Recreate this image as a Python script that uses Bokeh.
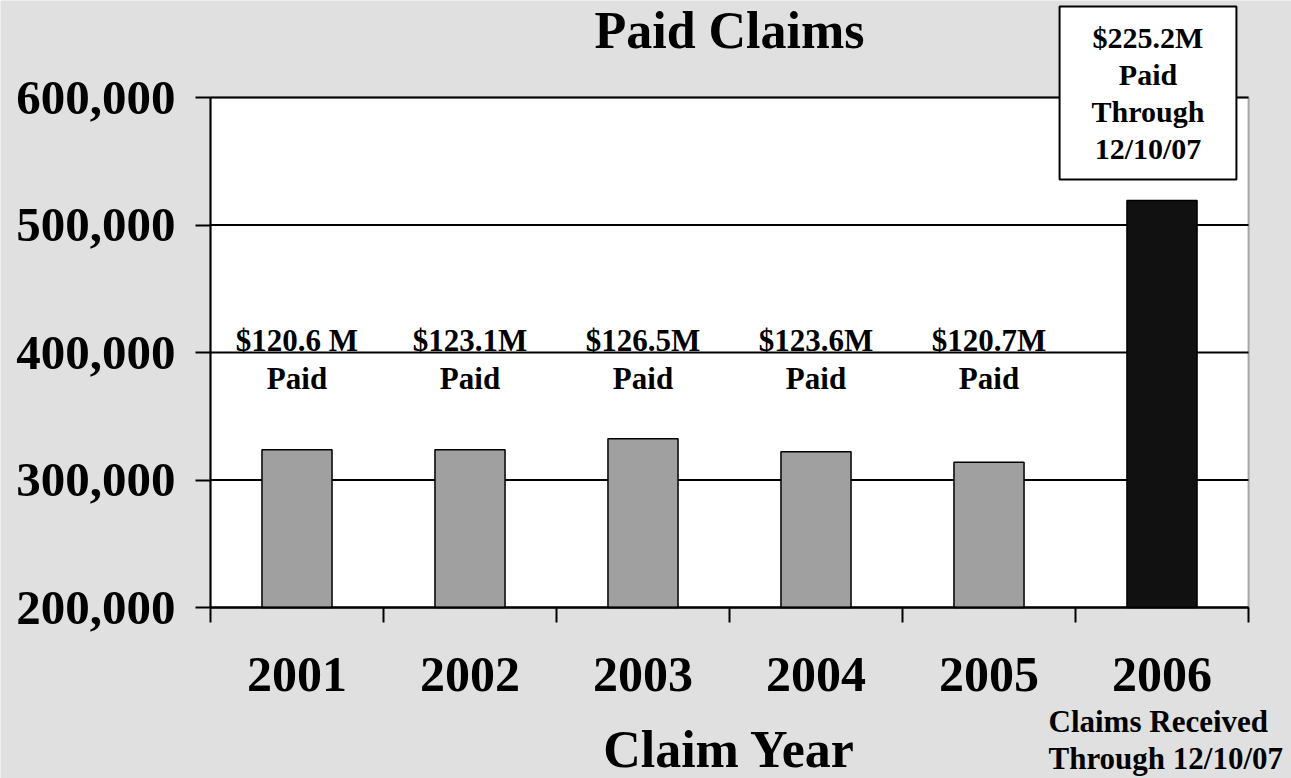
import re
from bokeh.plotting import figure
from bokeh.models import (FixedTicker, Label, Range1d, NumeralTickFormatter,
                          LinearAxis, BoxAnnotation)
from bokeh.embed import file_html
from bokeh.resources import INLINE
from bokeh.core.properties import value

# ---- data ----
years = ["2001", "2002", "2003", "2004", "2005", "2006"]
claims = [323700, 323700, 332300, 322100, 314000, 519200]
paid_amounts = ["$120.6 M", "$123.1M", "$126.5M", "$123.6M", "$120.7M"]
paid_word = ["Paid", "Paid", "Paid", "Paid", "Paid"]
y_ticks = [200000, 300000, 400000, 500000, 600000]
box_text = "$225.2M\nPaid\nThrough\n12/10/07"
note_lines = ["Claims Received", "Through 12/10/07"]
title_text = "Paid Claims"
x_title = "Claim Year"

FONT = "Liberation Serif"
BG = "#e0e0e0"
bar_colors = ["#a0a0a0"] * 5 + ["#111111"]

W, H = 1291, 778
# plot-area placement inside the canvas (pixels)
PL, PR, PT, PB = 210, 1248, 97, 607
Y0, Y1 = y_ticks[0], y_ticks[-1]
NX = len(years)
xpp = NX / (PR - PL)            # data units per pixel (x)
ypp = (Y1 - Y0) / (PB - PT)     # data units per pixel (y)

p = figure(width=W, height=H, output_backend="svg", toolbar_location=None, title=None,
           x_range=Range1d(-PL * xpp, NX + (W - PR) * xpp),
           y_range=Range1d(Y0 - (H - PB) * ypp, Y1 + PT * ypp),
           x_axis_location=None, y_axis_location=None,
           min_border_left=0, min_border_right=0, min_border_top=0, min_border_bottom=0,
           background_fill_color=BG, border_fill_color=BG, outline_line_color=None)
p.grid.visible = False

# white plot area with black border
p.add_layout(BoxAnnotation(left=0, right=NX, bottom=Y0, top=Y1, fill_color="white",
                           fill_alpha=1.0, line_color="black", line_width=2,
                           level="underlay"))

# horizontal grid lines at the y ticks
p.segment(x0=[0] * len(y_ticks), x1=[NX] * len(y_ticks), y0=y_ticks, y1=y_ticks,
          line_color="black", line_width=2)

xs = [i + 0.5 for i in range(NX)]
p.vbar(x=xs, top=claims, bottom=Y0, width=0.405, fill_color=bar_colors,
       line_color="black", line_width=1.5)

# amount labels over the first five bars
p.text(x=xs[:5], y=[409300] * 5, text=paid_amounts, text_align="center",
       text_baseline="alphabetic", text_font=value(FONT), text_font_style="bold",
       text_font_size="31px", text_color="black")
p.text(x=xs[:5], y=[380000] * 5, text=paid_word, text_align="center",
       text_baseline="alphabetic", text_font=value(FONT), text_font_style="bold",
       text_font_size="31px", text_color="black")

# y axis
yax = LinearAxis(fixed_location=0, bounds=(Y0, Y1))
yax.ticker = FixedTicker(ticks=y_ticks, minor_ticks=[])
yax.formatter = NumeralTickFormatter(format="0,0")
yax.major_label_text_font = FONT
yax.major_label_text_font_style = "bold"
yax.major_label_text_font_size = "49px"
yax.major_label_text_color = "black"
yax.major_tick_out = 15
yax.major_tick_in = 0
yax.major_tick_line_width = 2
yax.major_tick_line_color = "black"
yax.axis_line_width = 2
yax.axis_line_color = "black"
yax.major_label_standoff = 20
p.add_layout(yax, "left")

# x axis: labels at bar centres, ticks at category boundaries
xax = LinearAxis(fixed_location=Y0, bounds=(0, NX))
xax.ticker = FixedTicker(ticks=xs, minor_ticks=list(range(NX + 1)))
xax.major_label_overrides = {x: y for x, y in zip(xs, years)}
xax.major_label_text_font = FONT
xax.major_label_text_font_style = "bold"
xax.major_label_text_font_size = "50px"
xax.major_label_text_color = "black"
xax.major_tick_out = 0
xax.major_tick_in = 0
xax.minor_tick_out = 15
xax.minor_tick_in = 0
xax.minor_tick_line_width = 2
xax.minor_tick_line_color = "black"
xax.axis_line_width = 2
xax.axis_line_color = "black"
xax.major_label_standoff = 35
xax.axis_label = x_title
xax.axis_label_text_font = FONT
xax.axis_label_text_font_style = "bold"
xax.axis_label_text_font_size = "52px"
xax.axis_label_text_color = "black"
xax.axis_label_standoff = 27
p.add_layout(xax, "below")

# title
p.add_layout(Label(x=NX / 2, y=Y1 + 67 * ypp, text=title_text, text_align="center",
                   text_baseline="alphabetic", text_font=FONT, text_font_style="bold",
                   text_font_size="52px", text_color="black"))

# box over 2006
p.add_layout(Label(x=xs[5], y=Y1 + 4.5 * ypp, x_offset=-14, text=box_text,
                   text_align="center", text_baseline="middle", text_font=FONT,
                   text_font_style="bold", text_font_size="30px", text_color="black",
                   text_line_height=1.13, background_fill_color="white",
                   border_line_color="black", border_line_width=2,
                   padding=dict(left=32, right=32, top=14, bottom=14)))

# note under 2006
for line, dy in zip(note_lines, [114, 151]):
    p.add_layout(Label(x=xs[5], y=Y0 - dy * ypp, x_offset=-113.5, text=line,
                       text_align="left", text_baseline="alphabetic", text_font=FONT,
                       text_font_style="bold", text_font_size="31px", text_color="black"))

html = file_html(p, INLINE)
html = re.sub(r"<body([^>]*)>", r'<body\1 style="background-color:#e0e0e0;">', html, count=1)
open("out.html", "w").write(html)
